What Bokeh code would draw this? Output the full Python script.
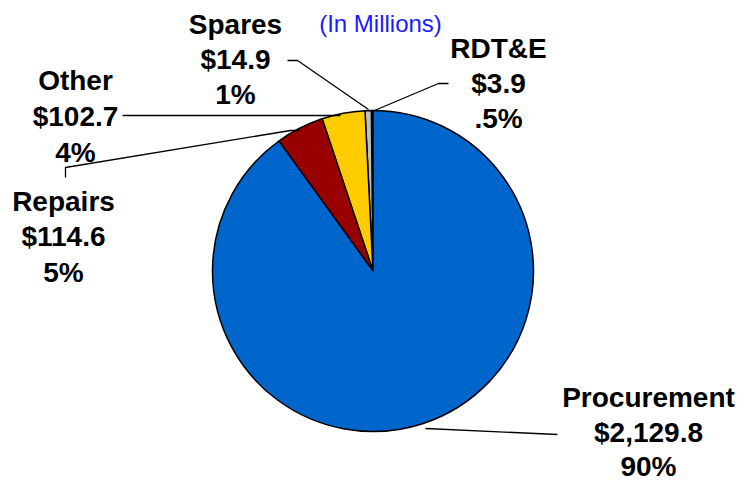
import math
from bokeh.plotting import figure
from bokeh.models import ColumnDataSource
from bokeh.core.properties import value
from bokeh.embed import file_html
from bokeh.resources import INLINE

# ---- data (in millions) ----
categories = ["RDT&E", "Spares", "Other", "Repairs", "Procurement"]
amounts = [3.9, 14.9, 102.7, 114.6, 2129.8]
amount_labels = ["$3.9", "$14.9", "$102.7", "$114.6", "$2,129.8"]
percent_labels = [".5%", "1%", "4%", "5%", "90%"]
colors = ["#1a1a1a", "#C0C0C0", "#FFCC00", "#990000", "#0066CC"]

W, H = 750, 483

def X(px):
    return px

def Y(py):
    return H - py

p = figure(width=W, height=H, x_range=(0, W), y_range=(0, H),
           output_backend="svg", toolbar_location=None, min_border=0)
p.axis.visible = False
p.grid.visible = False
p.outline_line_color = None
p.background_fill_color = "white"

# ---- pie wedges, anticlockwise from 12 o'clock ----
total = sum(amounts)
starts, ends = [], []
acc = 0.0
for a in amounts:
    s = math.pi / 2 + 2 * math.pi * acc / total
    acc += a
    e = math.pi / 2 + 2 * math.pi * acc / total
    starts.append(s)
    ends.append(e)

src = ColumnDataSource(dict(cat=categories, start=starts, end=ends, color=colors))
cx, cy, r = 372.5, 270.5, 160.5
p.wedge(x=X(cx), y=Y(cy), radius=r, radius_units="screen",
        start_angle="start", end_angle="end", direction="anticlock",
        fill_color="color", line_color="black", line_width=1.5, source=src)

# ---- leader lines ----
leaders = [
    [(448, 83), (438, 83), (374, 110)],                 # RDT&E
    [(287, 60), (297, 60), (368, 109)],                 # Spares
    [(122, 115), (340, 115)],                           # Other
    [(65, 177), (65, 167), (290, 130), (300, 130)],     # Repairs
    [(425, 428), (557, 434)],                           # Procurement
]
p.multi_line(xs=[[X(a) for a, b in L] for L in leaders],
             ys=[[Y(b) for a, b in L] for L in leaders],
             line_color="black", line_width=1.3)

# ---- labels (centre of each line) ----
label_pos = {
    "RDT&E": (498, [48, 83, 118]),
    "Spares": (235, [24, 59, 94]),
    "Other": (75, [80, 116, 152]),
    "Repairs": (63, [201, 236, 272]),
    "Procurement": (648, [397, 432, 466]),
}
tx, ty, tt = [], [], []
for c, am, pc in zip(categories, amount_labels, percent_labels):
    x0, ys = label_pos[c]
    for txt, yy in zip([c, am, pc], ys):
        tx.append(X(x0))
        ty.append(Y(yy))
        tt.append(txt)
p.text(x=tx, y=ty, text=tt, text_align="center", text_baseline="middle",
       text_font=value("Liberation Sans"), text_font_style="bold",
       text_font_size="28px", text_color="black")

p.text(x=[X(380)], y=[Y(23)], text=["(In Millions)"], text_align="center",
       text_baseline="middle", text_font=value("Liberation Sans"),
       text_font_size="24px", text_color="#1a1aff")

open("out.html", "w").write(file_html(p, INLINE))
